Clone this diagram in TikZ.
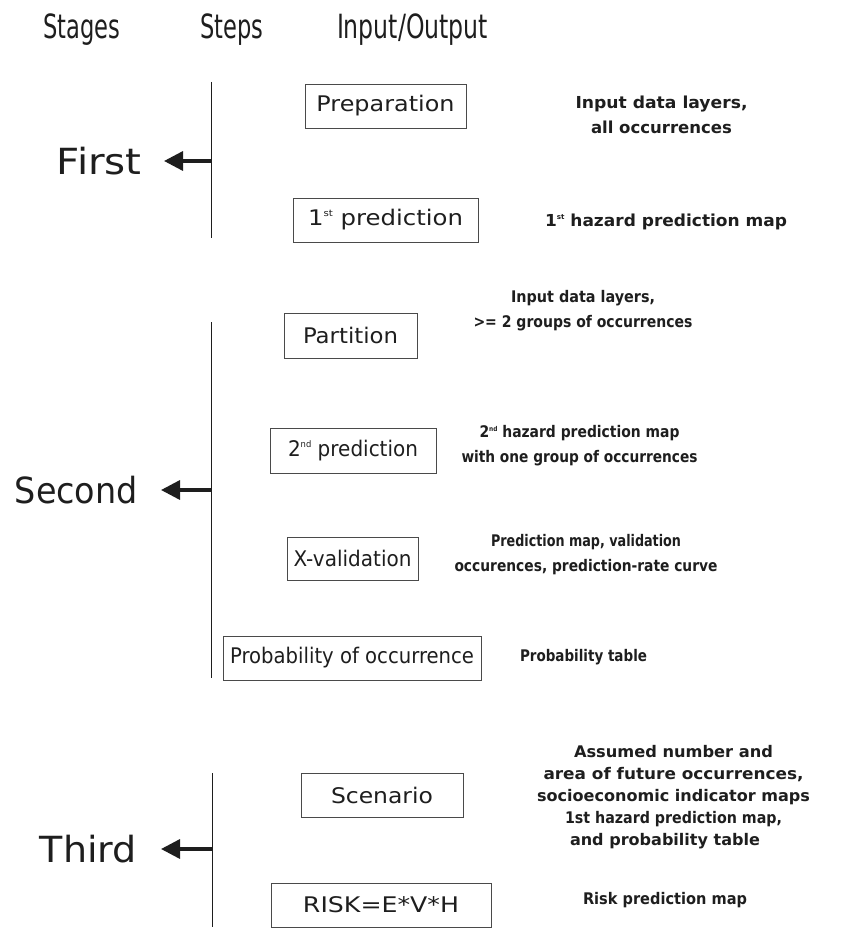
\documentclass[tikz,border=0pt]{standalone}
\usepackage{fontspec}
\setmainfont{DejaVu Sans}
\usetikzlibrary{arrows.meta}
\newcommand{\supr}[1]{\raisebox{0.42em}{\scalebox{0.42}{#1}}}
\newcommand{\fitto}[2]{\resizebox{#1}{\height}{#2}}
\definecolor{ink}{HTML}{1E1E1E}
\definecolor{boxline}{HTML}{4A4A4A}
\tikzset{
  hdr/.style={anchor=base, font=\fontsize{23}{27}\selectfont, inner sep=0pt, text=ink},
  stagelbl/.style={anchor=east, font=\fontsize{36}{40}\selectfont, inner sep=0pt, text=ink},
  stepbox/.style={draw=boxline, line width=0.9pt, font=\fontsize{21.5}{24}\selectfont, inner sep=0pt, minimum height=44pt, text=ink},
  ioa/.style={font=\bfseries\fontsize{16.5}{25}\selectfont, align=center, inner sep=0pt, text=ink},
  iob/.style={font=\bfseries\fontsize{16}{25}\selectfont, align=center, inner sep=0pt, text=ink},
  ioc/.style={font=\bfseries\fontsize{16}{22}\selectfont, align=center, inner sep=0pt, text=ink},
  stageline/.style={line width=0.9pt, draw=ink},
  stagearrow/.style={line width=3.4pt, draw=ink, -{Triangle[length=19pt,width=19pt]}},
}
\begin{document}
\begin{tikzpicture}[x=1pt,y=-1pt]
\useasboundingbox (0,0) rectangle (840,928);

% headers
\node[hdr] (hstages) at (82,39) {\scalebox{1}[1.45]{\fitto{77pt}{Stages}}};
\node[hdr] (hsteps) at (232,39) {\scalebox{1}[1.45]{\fitto{63pt}{Steps}}};
\node[hdr] (hio) at (412.5,39) {\scalebox{1}[1.45]{\fitto{151pt}{Input/Output}}};

% stage 1
\coordinate (s1t) at (211,82);
\coordinate (s1b) at (211,238);
\coordinate (s1m) at (211,161);
\draw[stageline] (s1t) -- (s1b);
\node[stagelbl] (first) at (142,161) {\fitto{85pt}{First}};
\draw[stagearrow] (s1m) -- ([xshift=22pt]first.east);

% stage 2
\coordinate (s2t) at (211,322);
\coordinate (s2b) at (211,678);
\coordinate (s2m) at (211,490);
\draw[stageline] (s2t) -- (s2b);
\node[stagelbl] (second) at (138,490) {\fitto{123pt}{Second}};
\draw[stagearrow] (s2m) -- ([xshift=23pt]second.east);

% stage 3
\coordinate (s3t) at (212,773);
\coordinate (s3b) at (212,927);
\coordinate (s3m) at (212,849);
\draw[stageline] (s3t) -- (s3b);
\node[stagelbl] (third) at (137,849) {\fitto{97pt}{Third}};
\draw[stagearrow] (s3m) -- ([xshift=24pt]third.east);

% steps
\node[stepbox, minimum width=161pt] (prep) at (385.5,106) {\fitto{138pt}{Preparation}};
\node[stepbox, minimum width=185pt] (pred1) at (385.5,220) {\fitto{155pt}{1\supr{st} prediction}};
\node[stepbox, minimum width=133pt, minimum height=45pt] (part) at (350.5,335.5) {\fitto{95pt}{Partition}};
\node[stepbox, minimum width=166pt, minimum height=45pt] (pred2) at (353,450.5) {\fitto{130pt}{2\supr{nd} prediction}};
\node[stepbox, minimum width=131pt, minimum height=43pt] (xval) at (352.5,558.5) {\fitto{118pt}{X-validation}};
\node[stepbox, minimum width=258pt] (prob) at (352,658) {\fitto{244pt}{Probability of occurrence}};
\node[stepbox, minimum width=162pt] (scen) at (382,795) {\fitto{102pt}{Scenario}};
\node[stepbox, minimum width=220pt] (risk) at (381,905) {\fitto{156pt}{RISK=E*V*H}};

% input / output
\node[ioa] (prepio) at (661.5,114.5) {\fitto{172pt}{Input data layers,}\\\fitto{141pt}{all occurrences}};
\node[ioa] (pred1io) at (666,222) {\fitto{242pt}{1\supr{st} hazard prediction map}};
\node[iob] (partio) at (583,310.5) {\fitto{144pt}{Input data layers,}\\\fitto{219pt}{>= 2 groups of occurrences}};
\node[iob] (pred2io) at (579.5,446) {\fitto{200pt}{2\supr{nd} hazard prediction map}\\\fitto{236pt}{with one group of occurrences}};
\node[iob] (xvalio) at (586,554.5) {\fitto{190pt}{Prediction map, validation}\\\fitto{263pt}{occurences, prediction-rate curve}};
\node[iob] (probio) at (583.5,657) {\fitto{127pt}{Probability table}};
\node[ioc] (scenio) at (673.5,797) {\fitto{199pt}{Assumed number and}\\
  \fitto{260pt}{area of future occurrences,}\\
  \fitto{273pt}{socioeconomic indicator maps}\\
  \fitto{217pt}{1st hazard prediction map,}\hspace*{40pt}\\
  \fitto{190pt}{and probability table}\hspace*{17pt}};
\node[ioc] (riskio) at (665,900) {\fitto{164pt}{Risk prediction map}};
\end{tikzpicture}
\end{document}
